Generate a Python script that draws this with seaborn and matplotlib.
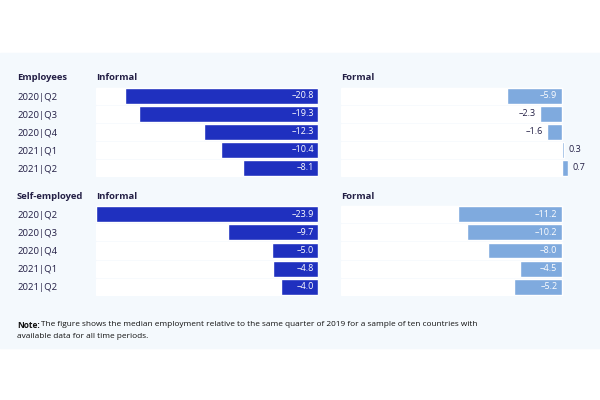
import matplotlib
matplotlib.use("Agg")
import matplotlib.pyplot as plt
import seaborn as sns
import pandas as pd

# data
periods = ["2020|Q2", "2020|Q3", "2020|Q4", "2021|Q1", "2021|Q2"]
emp_informal = [-20.8, -19.3, -12.3, -10.4, -8.1]
emp_formal = [-5.9, -2.3, -1.6, 0.3, 0.7]
self_informal = [-23.9, -9.7, -5.0, -4.8, -4.0]
self_formal = [-11.2, -10.2, -8.0, -4.5, -5.2]

INFORMAL_COL = "#1f30bf"
FORMAL_COL = "#7faade"
BG = "#f4f9fd"
TXT = "#231f45"
XMIN = -23.9

sns.set_theme(style="white")
plt.rcParams["font.family"] = ["Open Sans", "Noto Sans", "DejaVu Sans"]

fig = plt.figure(figsize=(6, 4), dpi=100)
fig.patch.set_facecolor("white")
# light panel behind everything
fig.patches.append(plt.Rectangle((0, 1 - 348 / 400), 1, (348 - 53) / 400,
                                 transform=fig.transFigure, color=BG, zorder=-5))


def px_axes(x0, y0, x1, y1):
    return fig.add_axes([x0 / 600, 1 - y1 / 400, (x1 - x0) / 600, (y1 - y0) / 400])


def draw_panel(ax, values, color, xmax, show_ticks):
    df = pd.DataFrame({"period": periods, "value": values})
    ax.set_facecolor("none")
    # white row backgrounds
    sns.barplot(data=pd.DataFrame({"period": periods, "value": [XMIN] * len(periods)}),
                x="value", y="period", orient="h", color="white", saturation=1,
                width=0.9, ax=ax, zorder=1)
    sns.barplot(data=df, x="value", y="period", orient="h", color=color,
                saturation=1, width=0.86, ax=ax, zorder=2)
    ax.set_xlim(XMIN, xmax)
    ax.set_ylim(len(periods) - 0.5, -0.5)
    ax.set_xlabel("")
    ax.set_ylabel("")
    ax.set_xticks([])
    for s in ax.spines.values():
        s.set_visible(False)
    if show_ticks:
        ax.set_yticks(range(len(periods)))
        ax.set_yticklabels(periods, fontsize=6.8, color=TXT, ha="left")
        ax.tick_params(axis="y", length=0, pad=(96 - 17) * 0.72)
    else:
        ax.set_yticks([])
    for i, v in enumerate(values):
        lab = f"{v:.1f}".replace("-", "–")
        if v < 0 and abs(v) > 3:
            ax.annotate(lab, (0, i), xytext=(-3, 0), textcoords="offset points",
                        ha="right", va="center", fontsize=6.5, color="white", zorder=3)
        elif v < 0:
            ax.annotate(lab, (v, i), xytext=(-3, 0), textcoords="offset points",
                        ha="right", va="center", fontsize=6.5, color=TXT, zorder=3)
        else:
            ax.annotate(lab, (v, i), xytext=(3, 0), textcoords="offset points",
                        ha="left", va="center", fontsize=6.5, color=TXT, zorder=3)


ax1 = px_axes(96, 87, 318, 177)
draw_panel(ax1, emp_informal, INFORMAL_COL, 0, True)
ax2 = px_axes(341, 87, 568, 177)
draw_panel(ax2, emp_formal, FORMAL_COL, 0.7, False)
ax3 = px_axes(96, 205, 318, 296)
draw_panel(ax3, self_informal, INFORMAL_COL, 0, True)
ax4 = px_axes(341, 205, 568, 296)
draw_panel(ax4, self_formal, FORMAL_COL, 0.7, False)

hdr = dict(fontsize=6.8, fontweight="bold", color=TXT, va="center", ha="left")
fig.text(17 / 600, 1 - 78 / 400, "Employees", **hdr)
fig.text(96 / 600, 1 - 78 / 400, "Informal", **hdr)
fig.text(341 / 600, 1 - 78 / 400, "Formal", **hdr)
fig.text(17 / 600, 1 - 197 / 400, "Self-employed", **hdr)
fig.text(96 / 600, 1 - 197 / 400, "Informal", **hdr)
fig.text(341 / 600, 1 - 197 / 400, "Formal", **hdr)

fig.text(17 / 600, 1 - 325 / 400, "Note:", fontsize=6.0, fontweight="bold",
         color="#111111", va="center", ha="left")
fig.text(41 / 600, 1 - 325 / 400,
         "The figure shows the median employment relative to the same quarter of 2019 for a sample of ten countries with",
         fontsize=5.95, color="#111111", va="center", ha="left")
fig.text(17 / 600, 1 - 337 / 400, "available data for all time periods.",
         fontsize=5.95, color="#111111", va="center", ha="left")

fig.savefig("out.png", dpi=100, facecolor=fig.get_facecolor())
